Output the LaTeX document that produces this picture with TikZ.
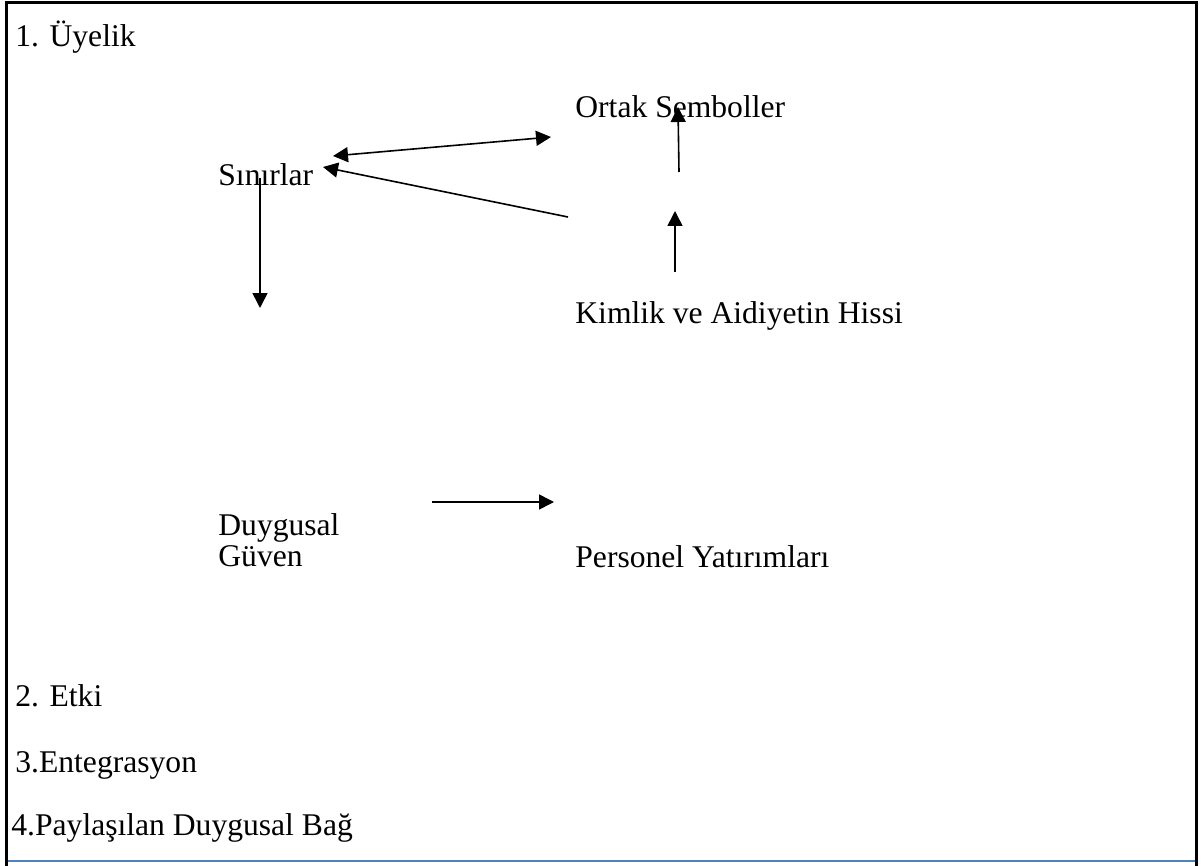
\documentclass[tikz,border=0pt]{standalone}
\usepackage{fontspec}
\setmainfont{Liberation Serif}
\usetikzlibrary{arrows.meta}
\definecolor{wordblue}{RGB}{79,129,189}
\begin{document}
\begin{tikzpicture}[x=0.5pt,y=-0.5pt,
  lbl/.style={anchor=base west,inner sep=0pt,font=\fontsize{15.8}{19}\selectfont},
  arr/.style={line width=0.8pt,-{Triangle[length=7.5pt,width=7.5pt]}},
  dblarr/.style={line width=0.8pt,{Triangle[length=7.5pt,width=7.5pt]}-{Triangle[length=7.5pt,width=7.5pt]}},
  frameline/.style={line width=1.5pt,black},
  baseline/.style={line width=1pt,wordblue}]
\useasboundingbox (0,0) rectangle (1204,866);
% frame
\coordinate (tl) at (6.5,3);
\coordinate (tr) at (1196.5,3);
\coordinate (bl) at (6.5,866);
\coordinate (br) at (1196.5,866);
\draw[frameline] (bl) -- (tl) -- (tr) -- (br);
\coordinate (bbl) at (8,861);
\coordinate (bbr) at (1195,861);
\draw[baseline] (bbl) -- (bbr);
% labels
\node[lbl] (uyelik) at (15,47) {1. Üyelik};
\node[lbl] (ortak) at (575,118) {Ortak Semboller};
\node[lbl] (sinir) at (218,186) {Sınırlar};
\node[lbl] (kimlik) at (575,323) {Kimlik ve Aidiyetin Hissi};
\node[lbl] (duygu) at (218,535) {Duygusal};
\node[lbl] (guven) at (218,566) {Güven};
\node[lbl] (personel) at (575,567) {Personel Yatırımları};
\node[lbl] (etki) at (15,706) {2. Etki};
\node[lbl] (entegr) at (15,772) {3.Entegrasyon};
\node[lbl] (paylas) at (11,835) {4.Paylaşılan Duygusal Bağ};
% connector end points
\coordinate (s1) at (333,156);
\coordinate (o1) at (551,137);
\coordinate (s2) at (323,167);
\coordinate (k2) at (568,217);
\coordinate (s3) at (260,178);
\coordinate (d3) at (260,308);
\coordinate (k4) at (679,172);
\coordinate (o4) at (678,107);
\coordinate (k5) at (675,272);
\coordinate (m5) at (675,211);
\coordinate (g6) at (432,502);
\coordinate (p6) at (554,502);
% connectors
\draw[dblarr] (s1) -- (o1);
\draw[arr] (k2) -- (s2);
\draw[arr] (s3) -- (d3);
\draw[arr] (k4) -- (o4);
\draw[arr] (k5) -- (m5);
\draw[arr] (g6) -- (p6);
\end{tikzpicture}
\end{document}
